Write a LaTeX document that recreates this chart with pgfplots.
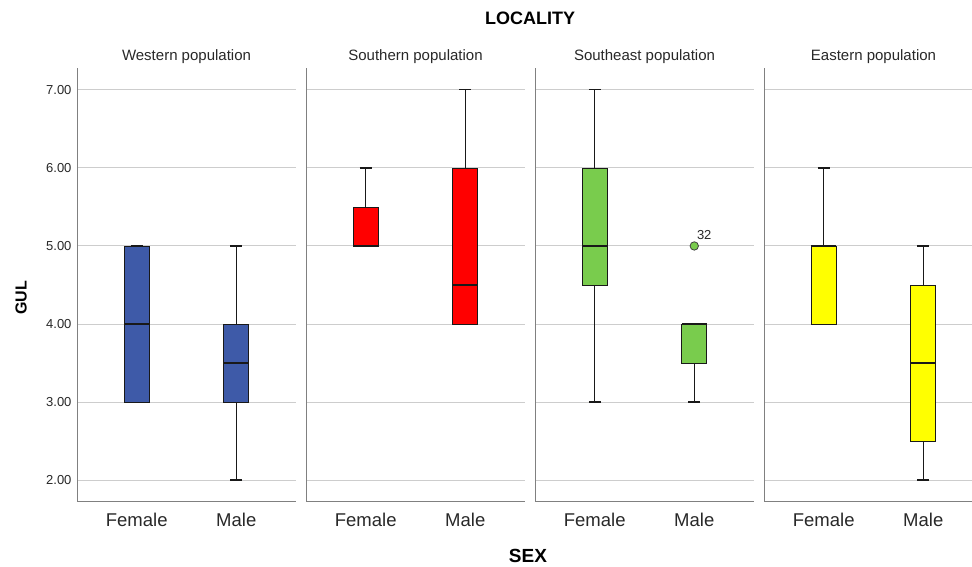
\documentclass[border=0pt]{standalone}
\usepackage{fontspec}
\setmainfont{Liberation Sans}
\usepackage{pgfplots}
\pgfplotsset{compat=1.18}
\usepgfplotslibrary{statistics}
\definecolor{sblue}{RGB}{62,90,168}
\definecolor{sred}{RGB}{255,0,0}
\definecolor{sgreen}{RGB}{121,204,77}
\definecolor{syellow}{RGB}{255,255,0}
\definecolor{axgray}{RGB}{128,128,128}
\definecolor{gridgray}{RGB}{205,205,205}
\definecolor{txt}{RGB}{40,40,40}

\pgfplotsset{
  panel/.style={
    scale only axis, width=219pt, height=434pt,
    xmin=0.4, xmax=2.6, ymin=1.72, ymax=7.28,
    axis x line*=bottom, axis y line*=left,
    axis line style={axgray, line width=1pt},
    xtick={1,2}, xticklabels={Female,Male},
    x tick style={draw=none},
    xticklabel style={font=\fontsize{18.5}{18.5}\selectfont, text=txt, yshift=-8pt},
    ytick={2,3,4,5,6,7},
    ymajorgrids, grid style={gridgray, line width=1pt},
    y tick style={draw=none},
    anchor=south west,
    boxplot/draw direction=y,
  },
  bx/.style={
    draw=black!90, line width=0.8pt,
    boxplot/every median/.style={line width=1.6pt},
    boxplot/every whisker/.style={line width=1.3pt},
  },
}

\begin{document}
\begin{tikzpicture}
\useasboundingbox (0,0) rectangle (972pt,567pt);

% Panel 1: Western
\begin{axis}[panel, at={(77pt,65pt)},
  yticklabels={2.00,3.00,4.00,5.00,6.00,7.00},
  yticklabel style={font=\fontsize{13}{13}\selectfont, text=txt, xshift=-2pt}]
\addplot[bx, fill=sblue, boxplot prepared={lower whisker=3, lower quartile=3, median=4, upper quartile=5, upper whisker=5, draw position=1, box extend=0.25, whisker extend=0.12}] coordinates {};
\addplot[bx, fill=sblue, boxplot prepared={lower whisker=2, lower quartile=3, median=3.5, upper quartile=4, upper whisker=5, draw position=2, box extend=0.25, whisker extend=0.12}] coordinates {};
\end{axis}

% Panel 2: Southern
\begin{axis}[panel, at={(306pt,65pt)}, yticklabels={}]
\addplot[bx, fill=sred, boxplot prepared={lower whisker=5, lower quartile=5, median=5, upper quartile=5.5, upper whisker=6, draw position=1, box extend=0.25, whisker extend=0.12}] coordinates {};
\addplot[bx, fill=sred, boxplot prepared={lower whisker=4, lower quartile=4, median=4.5, upper quartile=6, upper whisker=7, draw position=2, box extend=0.25, whisker extend=0.12}] coordinates {};
\end{axis}

% Panel 3: Southeast
\begin{axis}[panel, at={(535pt,65pt)}, yticklabels={}]
\addplot[bx, fill=sgreen, boxplot prepared={lower whisker=3, lower quartile=4.5, median=5, upper quartile=6, upper whisker=7, draw position=1, box extend=0.25, whisker extend=0.12}] coordinates {};
\addplot[bx, fill=sgreen, boxplot prepared={lower whisker=3, lower quartile=3.5, median=4, upper quartile=4, upper whisker=4, draw position=2, box extend=0.25, whisker extend=0.12}] coordinates {};
\addplot[only marks, mark=*, mark size=4.2pt, mark options={fill=sgreen, draw=black!75, line width=0.8pt},
  point meta=explicit symbolic, nodes near coords,
  every node near coord/.append style={anchor=south west, font=\fontsize{13}{13}\selectfont, text=txt, xshift=-1pt, yshift=3pt}]
  coordinates {(2,5) [32]};
\end{axis}

% Panel 4: Eastern
\begin{axis}[panel, at={(764pt,65pt)}, width=208pt, xmax=2.4895, yticklabels={}]
\addplot[bx, fill=syellow, boxplot prepared={lower whisker=4, lower quartile=4, median=5, upper quartile=5, upper whisker=6, draw position=1, box extend=0.25, whisker extend=0.12}] coordinates {};
\addplot[bx, fill=syellow, boxplot prepared={lower whisker=2, lower quartile=2.5, median=3.5, upper quartile=4.5, upper whisker=5, draw position=2, box extend=0.25, whisker extend=0.12}] coordinates {};
\end{axis}

% Titles
\node[font=\bfseries\fontsize{18}{18}\selectfont, text=black] at (530pt,549pt) {LOCALITY};
\node[font=\fontsize{15}{15}\selectfont, text=txt] at (186.5pt,510pt) {Western population};
\node[font=\fontsize{15}{15}\selectfont, text=txt] at (415.5pt,510pt) {Southern population};
\node[font=\fontsize{15}{15}\selectfont, text=txt] at (644.5pt,510pt) {Southeast population};
\node[font=\fontsize{15}{15}\selectfont, text=txt] at (873.5pt,510pt) {Eastern population};
\node[font=\bfseries\fontsize{19}{19}\selectfont, text=black] at (528pt,11pt) {SEX};
\node[font=\bfseries\fontsize{16}{16}\selectfont, text=black, rotate=90] at (21pt,269pt) {GUL};
\end{tikzpicture}
\end{document}
